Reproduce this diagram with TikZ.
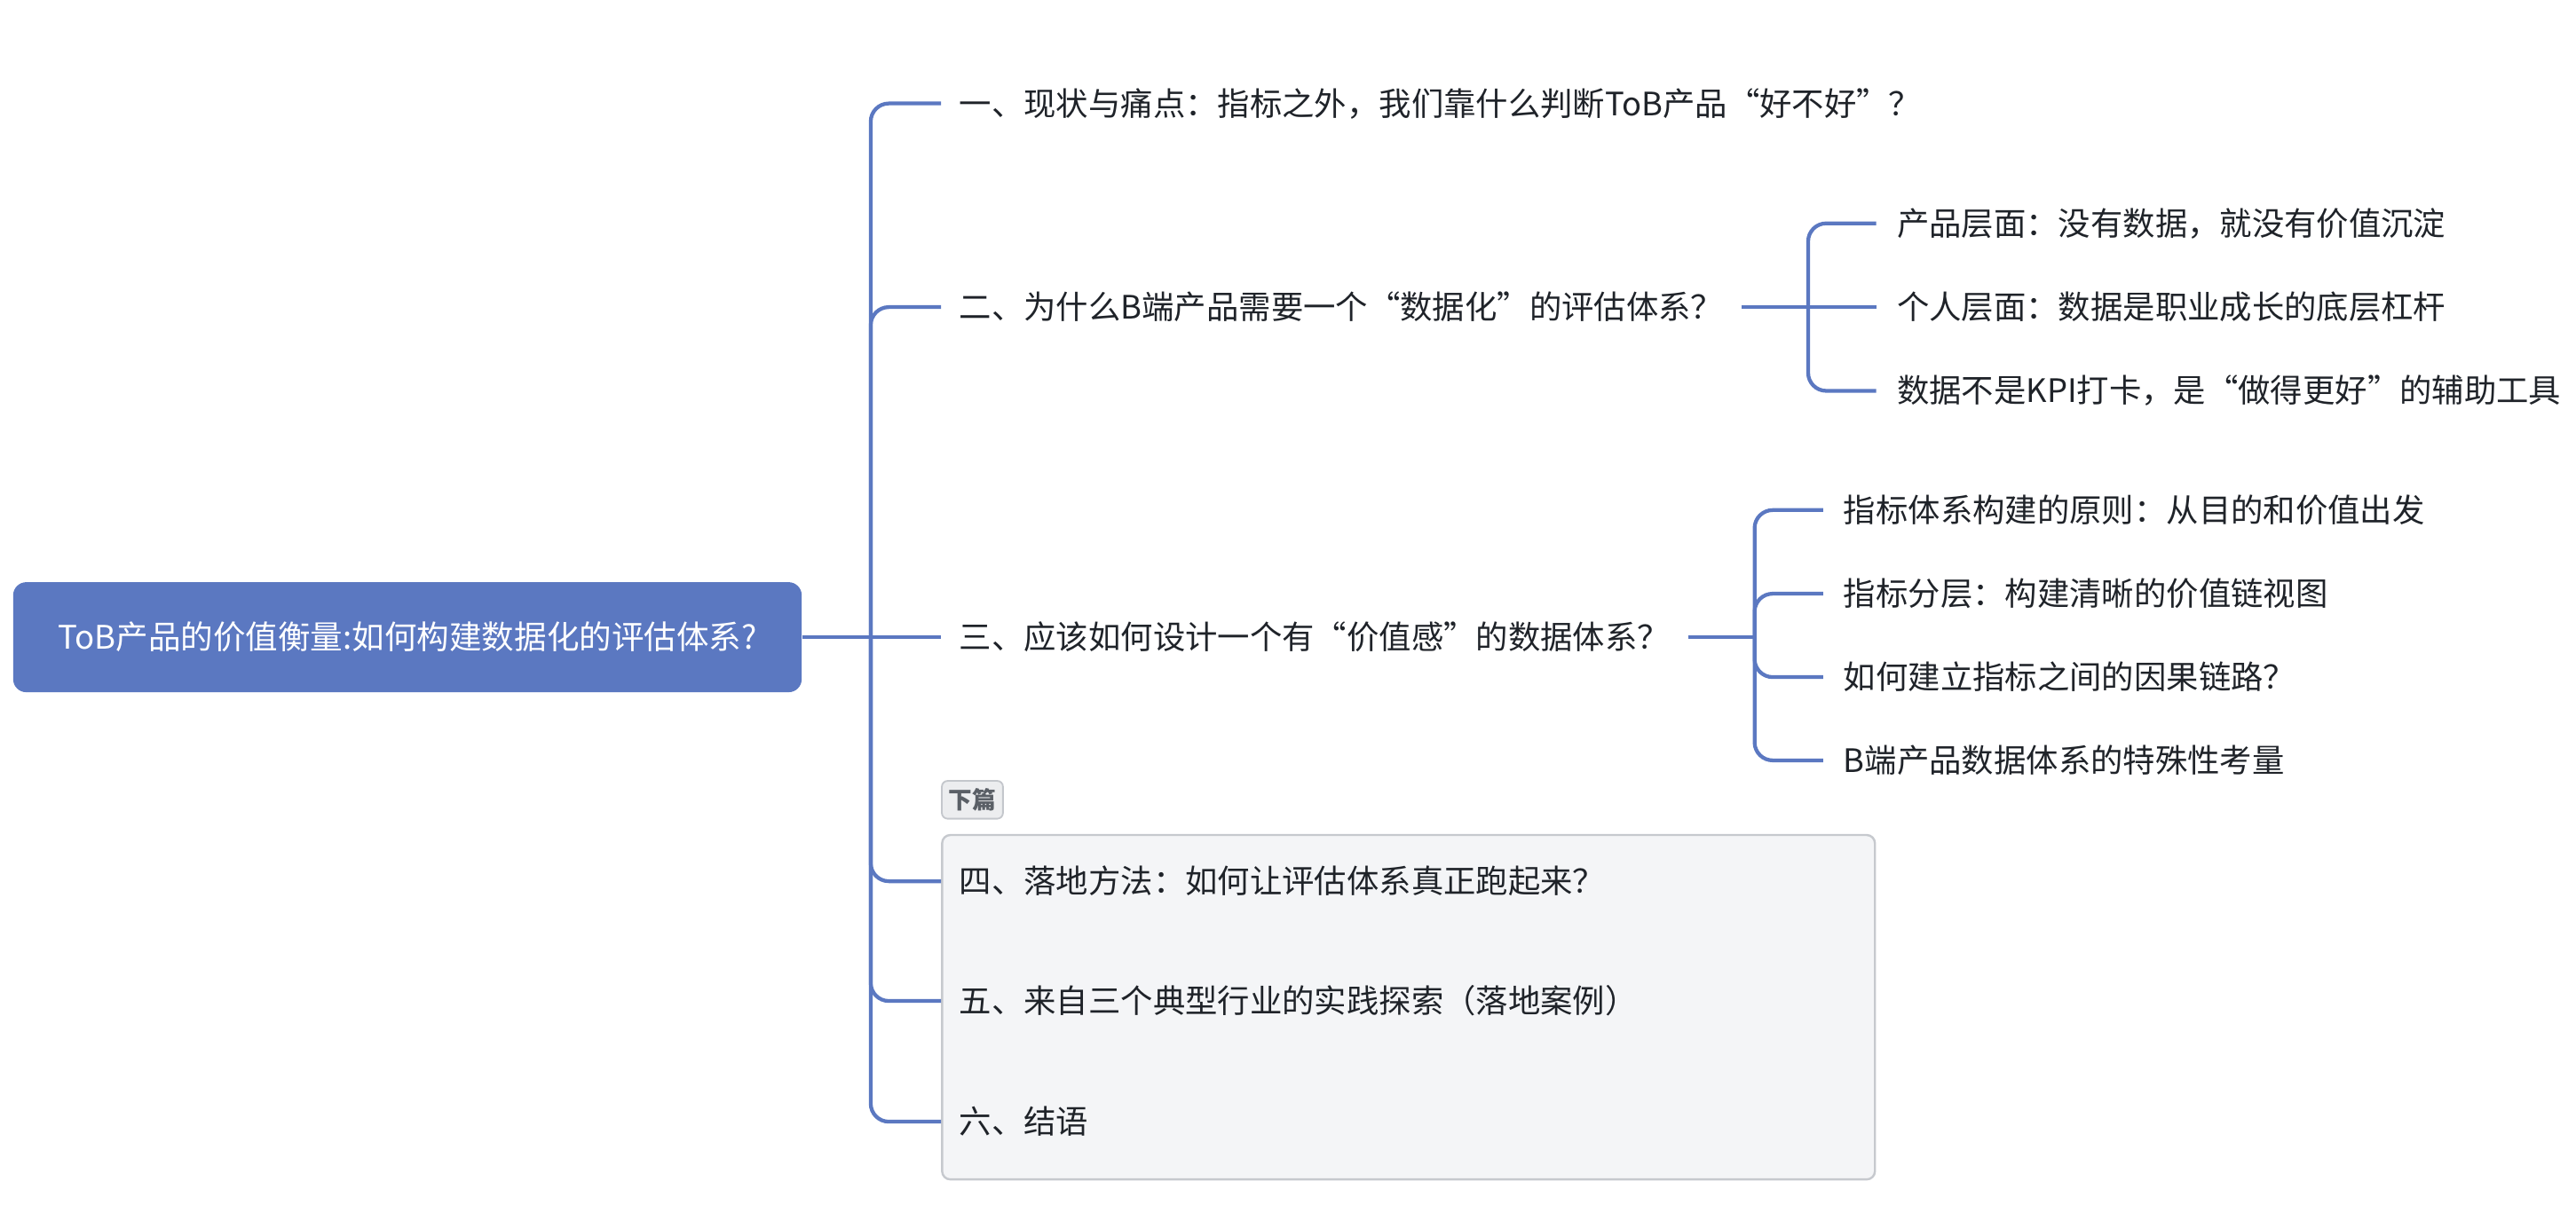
\documentclass[tikz,border=0pt]{standalone}
\usepackage{fontspec}
\setmainfont{Noto Sans CJK SC}
\definecolor{mblue}{HTML}{5B78C1}
\definecolor{txt}{HTML}{1F2329}
\definecolor{boxfill}{HTML}{F4F5F7}
\definecolor{boxborder}{HTML}{C6C9CE}
\definecolor{tagfill}{HTML}{ECEDEF}
\definecolor{tagborder}{HTML}{C4C7CC}
\definecolor{tagtext}{HTML}{5A5F66}
\begin{document}
\begin{tikzpicture}[x=1pt,y=-1pt,
  conn/.style={draw=mblue,line width=2.3pt,rounded corners=11pt},
  topic/.style={anchor=west,inner xsep=11pt,inner ysep=4pt,font=\fontsize{19.65}{23}\selectfont,text=txt},
  subtopic/.style={topic,inner xsep=12.5pt}]
\useasboundingbox (0,0) rectangle (1568,733.7);

% lower group box and tag
\node[draw=boxborder,fill=boxfill,line width=1.3pt,rounded corners=5pt,
      minimum width=567.8pt,minimum height=209.7pt,inner sep=0pt,anchor=north west]
      (lower) at (572.8,507.8) {};
\node[draw=tagborder,fill=tagfill,line width=1pt,rounded corners=3.5pt,
      minimum width=37.2pt,minimum height=23pt,inner sep=0pt,anchor=north west,
      font=\fontsize{14.4}{15}\selectfont\bfseries,text=tagtext]
      (tag) at (572.8,475) {下篇};

% root
\node[fill=mblue,rounded corners=8pt,minimum width=480pt,minimum height=67pt,
      inner sep=0pt,text=white,font=\fontsize{19.75}{23}\selectfont]
      (root) at (248,388) {ToB产品的价值衡量:如何构建数据化的评估体系?};

% main topics
\node[topic] (n1) at (572.8,63) {一、现状与痛点：指标之外，我们靠什么判断ToB产品“好不好”？};
\node[topic] (n2) at (572.8,187) {二、为什么B端产品需要一个“数据化”的评估体系？};
\node[topic] (n3) at (572.8,388) {三、应该如何设计一个有“价值感”的数据体系？};
\node[topic] (n4) at (572.8,536.6) {四、落地方法：如何让评估体系真正跑起来？};
\node[topic] (n5) at (572.8,609.5) {五、来自三个典型行业的实践探索（落地案例）};
\node[topic] (n6) at (572.8,683) {六、结语};

% sub topics of n2
\node[subtopic] (s21) at (1142,136) {产品层面：没有数据，就没有价值沉淀};
\node[subtopic] (s22) at (1142,187) {个人层面：数据是职业成长的底层杠杆};
\node[subtopic] (s23) at (1142,238) {数据不是KPI打卡，是“做得更好”的辅助工具};

% sub topics of n3
\node[subtopic,inner xsep=12.3pt] (s31) at (1109.7,310.6) {指标体系构建的原则：从目的和价值出发};
\node[subtopic,inner xsep=12.3pt] (s32) at (1109.7,361.5) {指标分层：构建清晰的价值链视图};
\node[subtopic,inner xsep=12.3pt] (s33) at (1109.7,412.3) {如何建立指标之间的因果链路？};
\node[subtopic,inner xsep=12.3pt] (s34) at (1109.7,463) {B端产品数据体系的特殊性考量};

% hubs
\coordinate (hub) at (530,388);
\coordinate (hub2) at (1100.6,187);
\coordinate (hub3) at (1068,388);

% connectors
\draw[conn] (root.east) -- (n3.west);
\foreach \t in {n1,n2,n4,n5,n6} \draw[conn] (hub) |- (\t.west);

\draw[conn] (n2.east) -- (hub2);
\foreach \t in {s21,s23} \draw[conn] (hub2) |- (\t.west);
\draw[conn] (hub2) -- (s22.west);

\draw[conn] (n3.east) -- (hub3);
\foreach \t in {s31,s32,s33,s34} \draw[conn] (hub3) |- (\t.west);
\end{tikzpicture}
\end{document}
